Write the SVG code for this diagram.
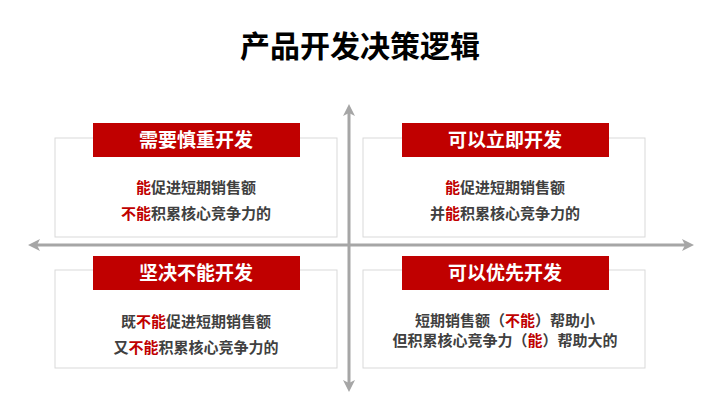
<svg xmlns="http://www.w3.org/2000/svg" width="720" height="401" viewBox="0 0 720 401">
<style>
.t{font-family:"Noto Sans CJK SC",sans-serif;font-weight:bold;text-anchor:middle}
.h{fill:#fff;font-size:19px}
.b{fill:#404040;font-size:15px}
.r{fill:#C00000}
.box{fill:#fff;stroke:#d9d9d9;stroke-width:1}
.hd{fill:#C00000}
.ax{stroke:#a6a6a6;stroke-width:3;fill:none}
</style>
<defs><marker id="a" markerWidth="4" markerHeight="4" refX="2" refY="2" orient="auto-start-reverse" markerUnits="strokeWidth"><path d="M0,0 L4,2 L0,4 L1,2 z" fill="#a6a6a6"/></marker></defs>
<rect width="720" height="401" fill="#fff"/>
<text class="t" x="360" y="57" font-size="30" fill="#000">产品开发决策逻辑</text>
<g id="connectors">
<line class="ax" x1="349" y1="110" x2="349" y2="386" marker-start="url(#a)" marker-end="url(#a)"/>
<line class="ax" x1="34" y1="245" x2="688" y2="245" marker-start="url(#a)" marker-end="url(#a)"/>
</g>
<g id="tl"><rect class="box" x="55" y="138" width="282" height="99"/><rect class="hd" x="93" y="123" width="207" height="34"/>
<text class="t h" x="196" y="147">需要慎重开发</text>
<text class="t b" x="196" y="193"><tspan class="r">能</tspan>促进短期销售额</text>
<text class="t b" x="196" y="219"><tspan class="r">不能</tspan>积累核心竞争力的</text></g>
<g id="tr"><rect class="box" x="363" y="138" width="282" height="99"/><rect class="hd" x="402" y="123" width="207" height="34"/>
<text class="t h" x="505" y="147">可以立即开发</text>
<text class="t b" x="505" y="193"><tspan class="r">能</tspan>促进短期销售额</text>
<text class="t b" x="505" y="219">并<tspan class="r">能</tspan>积累核心竞争力的</text></g>
<g id="bl"><rect class="box" x="55" y="270" width="282" height="98"/><rect class="hd" x="93" y="256" width="207" height="34"/>
<text class="t h" x="196" y="280">坚决不能开发</text>
<text class="t b" x="196" y="327">既<tspan class="r">不能</tspan>促进短期销售额</text>
<text class="t b" x="196" y="353">又<tspan class="r">不能</tspan>积累核心竞争力的</text></g>
<g id="br"><rect class="box" x="363" y="270" width="282" height="98"/><rect class="hd" x="402" y="256" width="207" height="34"/>
<text class="t h" x="505" y="280">可以优先开发</text>
<text class="t b" x="505" y="326" font-size="14">短期销售额（<tspan class="r">不能</tspan>）帮助小</text>
<text class="t b" x="505" y="346" font-size="14">但积累核心竞争力（<tspan class="r">能</tspan>）帮助大的</text></g>
</svg>
